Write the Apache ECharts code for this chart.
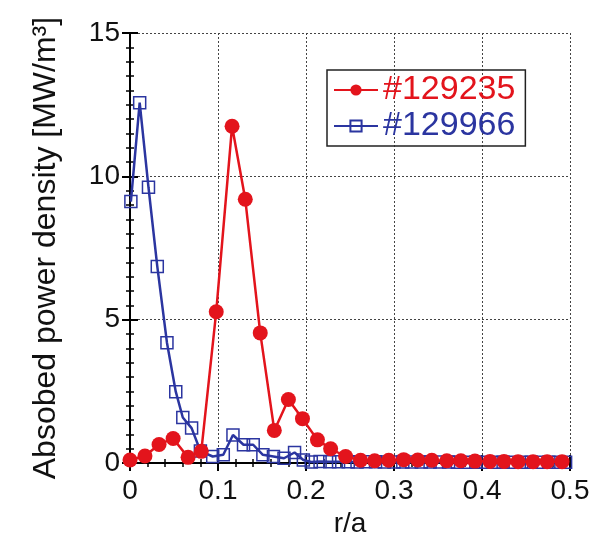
<!DOCTYPE html>
<html>
<head>
<meta charset="UTF-8">
<title>ECharts</title>
<script src="https://cdn.jsdelivr.net/npm/echarts@6/dist/echarts.min.js"></script>
</head>
<body style="margin:0;background:#fff">
<div id="main" style="width:598px;height:543px;"></div>
<script type="text/javascript">
// #129235 (red, filled circles)
var redX = [0, 0.017, 0.033, 0.049, 0.066, 0.081, 0.098, 0.116, 0.131, 0.148, 0.164, 0.180, 0.196, 0.213, 0.228, 0.245,
            0.262, 0.278, 0.294, 0.311, 0.327, 0.343, 0.360, 0.376, 0.392, 0.409, 0.425, 0.441, 0.458, 0.474, 0.491];
var redY = [0.11, 0.25, 0.65, 0.86, 0.2, 0.41, 5.28, 11.75, 9.2, 4.54, 1.14, 2.22, 1.55, 0.81, 0.5, 0.23,
            0.1, 0.08, 0.1, 0.12, 0.11, 0.1, 0.08, 0.08, 0.07, 0.06, 0.06, 0.05, 0.05, 0.05, 0.05];
// #129966 (blue, open squares)
var blueX = [0.001, 0.011, 0.021, 0.031, 0.042, 0.052, 0.060, 0.070, 0.080, 0.094, 0.106, 0.117, 0.129, 0.140, 0.151, 0.163,
             0.175, 0.187, 0.197, 0.206, 0.216, 0.227, 0.237, 0.248, 0.258, 0.268, 0.279, 0.289, 0.300, 0.310, 0.320,
             0.331, 0.341, 0.352, 0.362, 0.372, 0.383, 0.393, 0.404, 0.414, 0.424, 0.435, 0.445, 0.456, 0.466, 0.476,
             0.487, 0.495];
var blueY = [9.12, 12.57, 9.62, 6.86, 4.2, 2.49, 1.59, 1.22, 0.42, 0.23, 0.29, 0.98, 0.64, 0.64, 0.29, 0.23,
             0.17, 0.37, 0.11, 0.04, 0.06, 0.05, 0.05, 0.05, 0.04, 0.05, 0.05, 0.04, 0.04, 0.04, 0.04,
             0.04, 0.04, 0.04, 0.04, 0.03, 0.03, 0.03, 0.03, 0.03, 0.03, 0.03, 0.03, 0.03, 0.03, 0.03,
             0.03, 0.03];
var xTicks = [0, 0.1, 0.2, 0.3, 0.4, 0.5];
var yTicks = [0, 5, 10, 15];
var seriesNames = ['#129235', '#129966'];

var RED = '#e3141c', BLUE = '#2b35a0';
var FONT = '"Liberation Sans", Arial, sans-serif';

function pairs(xs, ys) {
    var out = [];
    for (var i = 0; i < xs.length; i++) out.push([xs[i], ys[i]]);
    return out;
}

var chart = echarts.init(document.getElementById('main'));

var frameAxis = {
    axisLine: { show: true, lineStyle: { color: '#000', width: 2 } },
    axisTick: { show: true, inside: true, length: 8, lineStyle: { color: '#000', width: 2 } },
    minorTick: { show: true, length: 4, lineStyle: { color: '#000', width: 1.5 } },
    splitLine: { show: false },
    axisLabel: { show: false }
};

var option = {
    animation: false,
    grid: { left: 130, right: 28, top: 33, bottom: 78 },
    legend: {
        left: 327, top: 70,
        orient: 'vertical',
        itemWidth: 44, itemHeight: 14, itemGap: 2,
        padding: [3, 10, 3, 6],
        borderColor: '#222', borderWidth: 1.5,
        textStyle: { fontSize: 34, fontFamily: FONT },
        data: [
            { name: seriesNames[0], textStyle: { color: RED } },
            { name: seriesNames[1], textStyle: { color: BLUE } }
        ]
    },
    xAxis: [
        Object.assign({}, frameAxis, {
            type: 'value', min: 0, max: 0.5, interval: 0.1,
            minorTick: Object.assign({}, frameAxis.minorTick, { splitNumber: 5 }),
            splitLine: { show: true, lineStyle: { color: '#444', type: [2, 2], width: 1 } },
            axisLabel: {
                show: true, margin: 14, color: '#111', fontSize: 28, fontFamily: FONT,
                formatter: function (v) { return xTicks.indexOf(+v.toFixed(1)) >= 0 ? String(+v.toFixed(1)) : ''; }
            },
            name: 'r/a', nameLocation: 'middle', nameGap: 44,
            nameTextStyle: { color: '#111', fontSize: 28, fontFamily: FONT }
        }),
        Object.assign({}, frameAxis, {
            type: 'value', min: 0, max: 0.5, interval: 0.1, position: 'top',
            minorTick: Object.assign({}, frameAxis.minorTick, { splitNumber: 5 })
        })
    ],
    yAxis: [
        Object.assign({}, frameAxis, {
            type: 'value', min: 0, max: 15, interval: 5,
            minorTick: Object.assign({}, frameAxis.minorTick, { splitNumber: 10 }),
            splitLine: { show: true, lineStyle: { color: '#444', type: [2, 2], width: 1 } },
            axisLabel: {
                show: true, margin: 10, color: '#111', fontSize: 28, fontFamily: FONT,
                formatter: function (v) { return yTicks.indexOf(v) >= 0 ? String(v) : ''; }
            },
            name: 'Absobed power density [MW/m³]', nameLocation: 'middle', nameGap: 68, nameRotate: 90,
            nameTextStyle: { color: '#111', fontSize: 32, fontFamily: FONT }
        }),
        Object.assign({}, frameAxis, {
            type: 'value', min: 0, max: 15, interval: 5, position: 'right',
            minorTick: Object.assign({}, frameAxis.minorTick, { splitNumber: 10 })
        })
    ],
    series: [
        {
            name: seriesNames[1], type: 'line', data: pairs(blueX, blueY),
            symbol: 'rect', symbolSize: 12, color: BLUE,
            lineStyle: { color: BLUE, width: 2.5 },
            itemStyle: { color: 'rgba(255,255,255,0)', borderColor: BLUE, borderWidth: 1.5 },
            z: 3
        },
        {
            name: seriesNames[0], type: 'line', data: pairs(redX, redY),
            symbol: 'circle', symbolSize: 15, color: RED,
            lineStyle: { color: RED, width: 2.5 },
            itemStyle: { color: RED },
            z: 4
        }
    ]
};
chart.setOption(option);
</script>
</body>
</html>
